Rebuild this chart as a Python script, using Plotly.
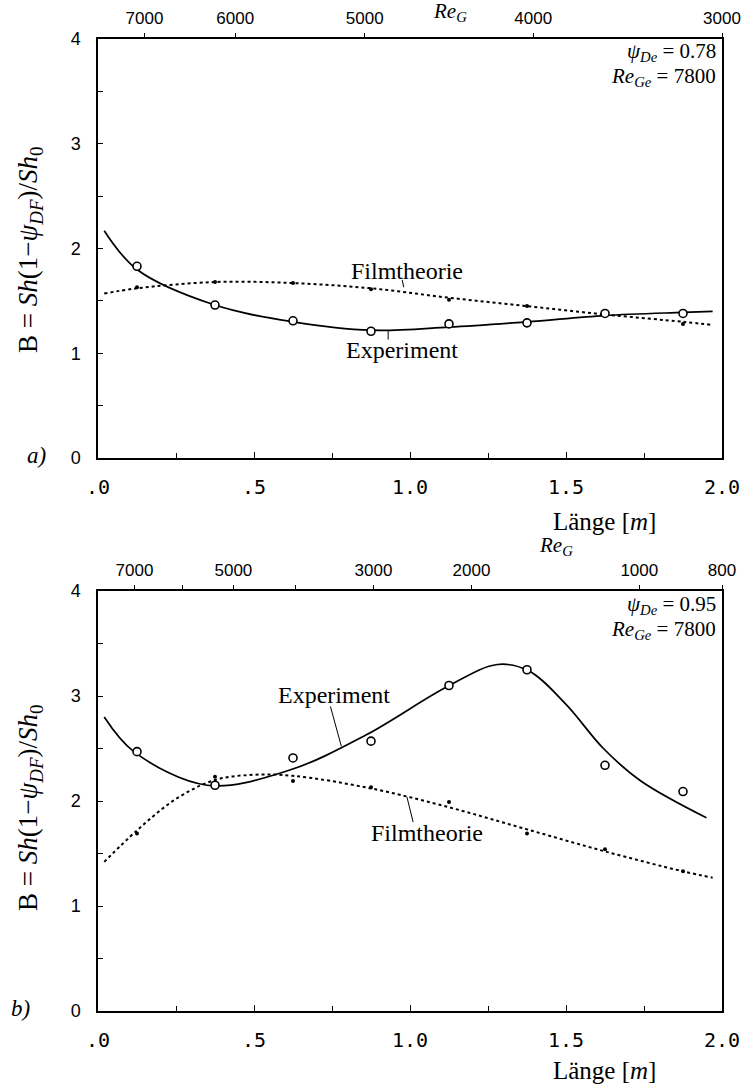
import plotly.graph_objects as go

# ---------------- data ----------------
pos = [0.125, 0.375, 0.625, 0.875, 1.125, 1.375, 1.625, 1.875]

# panel a  (psi_De = 0.78)
a_exp_pts = [1.83, 1.46, 1.31, 1.21, 1.28, 1.29, 1.38, 1.38]
a_film_pts = [1.63, 1.68, 1.67, 1.61, 1.51, 1.45, 1.38, 1.28]
a_exp_curve_x = [0.02, 0.125, 0.375, 0.625, 0.875, 1.125, 1.375, 1.625, 1.875, 1.97]
a_exp_curve_y = [2.17, 1.80, 1.46, 1.30, 1.22, 1.25, 1.30, 1.36, 1.39, 1.40]
a_film_curve_x = [0.02, 0.125, 0.375, 0.625, 0.875, 1.125, 1.375, 1.625, 1.875, 1.97]
a_film_curve_y = [1.57, 1.62, 1.68, 1.67, 1.62, 1.53, 1.45, 1.37, 1.30, 1.27]

# panel b  (psi_De = 0.95)
b_exp_pts = [2.47, 2.15, 2.41, 2.57, 3.10, 3.25, 2.34, 2.09]
b_film_pts = [1.69, 2.23, 2.19, 2.13, 1.99, 1.69, 1.54, 1.33]
b_exp_curve_x = [0.02, 0.115, 0.35, 0.61, 0.86, 1.12, 1.28, 1.38, 1.5, 1.62, 1.74, 1.95]
b_exp_curve_y = [2.80, 2.47, 2.15, 2.29, 2.63, 3.09, 3.30, 3.24, 2.92, 2.50, 2.19, 1.84]
b_film_curve_x = [0.02, 0.125, 0.25, 0.375, 0.5, 0.625, 0.875, 1.125, 1.375, 1.625, 1.875, 1.97]
b_film_curve_y = [1.42, 1.72, 2.02, 2.20, 2.25, 2.24, 2.12, 1.94, 1.73, 1.52, 1.33, 1.27]

# axes
x_ticks = [0, 0.5, 1.0, 1.5, 2.0]
x_ticktext = [".0", ".5", "1.0", "1.5", "2.0"]
y_ticks = [0, 1, 2, 3, 4]

a_re_pos = [0.149, 0.44, 0.855, 1.395, 2.0]
a_re_text = ["7000", "6000", "5000", "4000", "3000"]
b_re_pos = [0.117, 0.272, 0.434, 0.634, 0.883, 1.197, 1.735, 2.0]
b_re_text = ["7000", "", "5000", "", "3000", "2000", "1000", "800"]

# ---------------- figure ----------------
W, H = 754, 1088
XD = [98 / W, 722 / W]
YD_A = [1 - 458 / H, 1 - 39 / H]
YD_B = [1 - 1011 / H, 1 - 591 / H]

SERIF = "Liberation Serif, DejaVu Serif, serif"
MONO = "DejaVu Sans Mono, Liberation Mono, monospace"
SANS = "Liberation Sans, DejaVu Sans, sans-serif"

fig = go.Figure()


def add_panel(xa, ya, ex_cx, ex_cy, fi_cx, fi_cy, ex_p, fi_p):
    fig.add_trace(go.Scatter(x=fi_cx, y=fi_cy, mode="lines", line=dict(color="black", width=2, dash="dot", shape="spline", smoothing=1.0),
                             xaxis=xa, yaxis=ya, showlegend=False, hoverinfo="skip"))
    fig.add_trace(go.Scatter(x=ex_cx, y=ex_cy, mode="lines", line=dict(color="black", width=1.7, shape="spline", smoothing=1.0),
                             xaxis=xa, yaxis=ya, showlegend=False, hoverinfo="skip"))
    fig.add_trace(go.Scatter(x=pos, y=fi_p, mode="markers", marker=dict(color="black", size=4),
                             xaxis=xa, yaxis=ya, showlegend=False))
    fig.add_trace(go.Scatter(x=pos, y=ex_p, mode="markers",
                             marker=dict(color="white", size=8, line=dict(color="black", width=1.6)),
                             xaxis=xa, yaxis=ya, showlegend=False))


add_panel("x", "y", a_exp_curve_x, a_exp_curve_y, a_film_curve_x, a_film_curve_y, a_exp_pts, a_film_pts)
add_panel("x2", "y2", b_exp_curve_x, b_exp_curve_y, b_film_curve_x, b_film_curve_y, b_exp_pts, b_film_pts)
# invisible traces so the top axes are drawn
fig.add_trace(go.Scatter(x=[0, 2], y=[0, 0], mode="markers", marker=dict(opacity=0), xaxis="x3", yaxis="y", showlegend=False, hoverinfo="skip"))
fig.add_trace(go.Scatter(x=[0, 2], y=[0, 0], mode="markers", marker=dict(opacity=0), xaxis="x4", yaxis="y2", showlegend=False, hoverinfo="skip"))


def bottom_axis(anchor):
    return dict(domain=XD, anchor=anchor, range=[0, 2], tickvals=x_ticks, ticktext=x_ticktext,
                ticks="inside", ticklen=6, tickwidth=1.2, tickcolor="black",
                minor=dict(dtick=0.25, tick0=0, ticks="inside", ticklen=5, tickcolor="black"),
                showline=True, linecolor="black", linewidth=1.8, mirror=True,
                showgrid=False, zeroline=False, ticklabelstandoff=10, automargin=False,
                tickfont=dict(family=MONO, size=20, color="black"))


def left_axis(dom):
    return dict(domain=dom, anchor=None, range=[0, 4], tickvals=y_ticks,
                ticks="inside", ticklen=5, tickwidth=1.2, tickcolor="black",
                minor=dict(dtick=0.5, tick0=0, ticks="inside", ticklen=5, tickcolor="black"),
                showline=True, linecolor="black", linewidth=1.5, mirror=True,
                showgrid=False, zeroline=False, ticklabelstandoff=12, automargin=False,
                tickfont=dict(family=SANS, size=18, color="black"))


def top_axis(over, anchor, tv, tt):
    return dict(domain=XD, overlaying=over, anchor=anchor, side="top", range=[0, 2],
                tickvals=tv, ticktext=tt, ticks="outside", ticklen=5, tickwidth=1.2, tickcolor="black",
                showline=False, showgrid=False, zeroline=False, ticklabelstandoff=2, automargin=False,
                tickfont=dict(family=SANS, size=17, color="black"))


ya = left_axis(YD_A)
ya["anchor"] = "x"
yb = left_axis(YD_B)
yb["anchor"] = "x2"

fig.update_layout(
    width=W, height=H, margin=dict(l=0, r=0, t=0, b=0, pad=0, autoexpand=False),
    paper_bgcolor="white", plot_bgcolor="white", showlegend=False,
    xaxis=bottom_axis("y"), yaxis=ya,
    xaxis2=bottom_axis("y2"), yaxis2=yb,
    xaxis3=top_axis("x", "y", a_re_pos, a_re_text),
    xaxis4=top_axis("x2", "y2", b_re_pos, b_re_text),
)

ylab = "B = <i>Sh</i>(1−<i>ψ<sub>DF</sub></i>)/<i>Sh</i><sub>0</sub>"
ann = []


def pa(x, y, text, size=20, fam=SERIF, xanchor="center", yanchor="middle", angle=0):
    ann.append(dict(x=x / W, y=1 - y / H, xref="paper", yref="paper", text=text, showarrow=False,
                    xanchor=xanchor, yanchor=yanchor, textangle=angle,
                    font=dict(family=fam, size=size, color="black")))


# y axis titles
pa(30, 250, ylab, size=27, angle=-90)
pa(30, 808, ylab, size=27, angle=-90)
# panel letters
pa(36, 455, "<i>a)</i>", size=23)
pa(20, 1008, "<i>b)</i>", size=23)
# bottom axis titles
pa(604, 521, "Länge [<i>m</i>]", size=25)
pa(604, 1070, "Länge [<i>m</i>]", size=25)
# Re_G titles
pa(450, 12, "<i>Re<sub>G</sub></i>", size=21)
pa(556, 546, "<i>Re<sub>G</sub></i>", size=21)
# parameter boxes
pa(718, 52, "<i>ψ<sub>De</sub></i> = 0.78", size=21, xanchor="right")
pa(718, 77, "<i>Re<sub>Ge</sub></i> = 7800", size=21, xanchor="right")
pa(718, 605, "<i>ψ<sub>De</sub></i> = 0.95", size=21, xanchor="right")
pa(718, 630, "<i>Re<sub>Ge</sub></i> = 7800", size=21, xanchor="right")

# curve labels (data coordinates)
CL = 24
ann.append(dict(x=0.99, y=1.79, xref="x", yref="y", text="Filmtheorie", showarrow=False,
                font=dict(family=SERIF, size=CL, color="black")))
ann.append(dict(x=0.975, y=1.03, xref="x", yref="y", text="Experiment", showarrow=False,
                font=dict(family=SERIF, size=CL, color="black")))
ann.append(dict(x=0.755, y=3.01, xref="x2", yref="y2", text="Experiment", showarrow=False,
                font=dict(family=SERIF, size=CL, color="black")))
ann.append(dict(x=1.055, y=1.70, xref="x2", yref="y2", text="Filmtheorie", showarrow=False,
                font=dict(family=SERIF, size=CL, color="black")))
fig.update_layout(annotations=ann)

# leader lines
shapes = [
    dict(type="line", xref="x", yref="y", x0=0.975, y0=1.70, x1=0.98, y1=1.63, line=dict(color="black", width=1)),
    dict(type="line", xref="x", yref="y", x0=0.93, y0=1.13, x1=0.93, y1=1.22, line=dict(color="black", width=1)),
    dict(type="line", xref="x2", yref="y2", x0=0.745, y0=2.90, x1=0.78, y1=2.52, line=dict(color="black", width=1)),
    dict(type="line", xref="x2", yref="y2", x0=1.01, y0=1.80, x1=0.99, y1=2.04, line=dict(color="black", width=1)),
]
fig.update_layout(shapes=shapes)

fig.write_html("out.html")
